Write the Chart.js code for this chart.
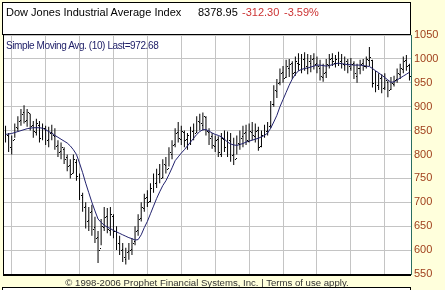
<!DOCTYPE html>
<html><head><meta charset="utf-8">
<script src="https://cdn.jsdelivr.net/npm/chart.js@4.4.1/dist/chart.umd.min.js"></script>
<style>
html,body{margin:0;padding:0;}
body{width:445px;height:290px;background:#ffffdc;position:relative;overflow:hidden;font-family:"Liberation Sans",Arial,sans-serif;}
#c{position:absolute;left:0;top:0;}
#titlebox{position:absolute;left:2px;top:2px;width:407px;height:31px;border:1px solid #000;background:#fff;}
.t{position:absolute;font-size:11px;line-height:13px;white-space:nowrap;}
#malabel{position:absolute;left:6px;top:39px;font-size:10px;letter-spacing:-0.4px;line-height:13px;color:#22226a;white-space:nowrap;}
#footer{position:absolute;left:3px;top:277px;width:408px;text-align:center;font-size:9.6px;line-height:11px;color:#333;white-space:nowrap;}
#bottombox{position:absolute;left:2px;top:287px;width:407px;height:10px;border:1px solid #000;background:#fff;}
</style></head>
<body>
<canvas id="c" width="445" height="290"></canvas>
<div id="titlebox"></div>
<span class="t" style="left:6px;top:6px;color:#000">Dow Jones Industrial Average Index</span>
<span class="t" style="left:198px;top:6px;color:#000">8378.95</span>
<span class="t" style="left:242px;top:6px;color:#cc3333">-312.30</span>
<span class="t" style="left:284px;top:6px;color:#cc3333">-3.59%</span>
<div id="malabel">Simple Moving Avg. (10) Last=972.68</div>
<div id="footer">© 1998-2006 Prophet Financial Systems, Inc. | Terms of use apply.</div>
<div id="bottombox"></div>
<script>
const highs = [860,845,840,865,880,895,903,895,885,870,
875,870,865,860,858,862,855,830,825,815,
800,790,800,790,760,720,700,690,695,670,
640,665,690,688,690,675,650,630,615,605,
615,625,650,675,700,718,725,740,760,770,
780,790,795,815,830,855,868,860,850,845,
858,865,880,885,888,880,855,845,840,838,
845,850,848,845,835,840,850,860,862,865,
868,865,858,850,862,868,912,945,958,980,
985,998,1000,995,1005,1012,1010,1014,1010,1008,
1012,1005,998,990,1000,1010,1012,1008,1015,1010,
1005,1000,1002,995,990,998,1000,1005,1025,998,
975,970,968,970,955,962,965,980,990,1005,
1008,990];
const lows = [825,805,800,835,848,860,865,858,850,835,
840,825,830,820,815,830,810,795,790,780,
765,750,760,745,705,680,645,640,630,615,
573,610,640,635,630,625,600,590,575,570,
580,590,610,630,660,680,690,700,720,730,
740,750,760,775,790,815,825,820,815,810,
820,830,845,850,850,840,820,812,805,795,
795,805,795,785,778,800,810,815,820,825,
830,825,808,815,835,840,855,900,918,945,
950,960,962,958,965,975,970,975,968,972,
978,970,955,952,960,980,985,982,985,980,
975,970,975,958,950,968,975,980,985,940,
930,935,928,935,920,935,942,950,958,970,
975,955];
const opens = [850,838,812,832,856,872,888,872,886,862,
848,862,838,852,832,847,838,820,807,812,
795,778,762,785,758,712,692,662,682,648,
628,605,648,672,642,672,642,612,602,582,
598,602,618,642,668,688,712,702,728,742,
762,752,778,772,802,822,848,832,848,832,
838,852,848,868,862,878,848,838,818,832,
802,832,818,828,802,792,822,838,848,828,
848,838,852,818,838,852,862,905,932,952,
972,962,982,992,972,992,988,1002,982,992,
1002,992,982,962,972,988,1002,992,1002,998,
988,992,982,992,965,982,992,985,998,998,
948,942,962,942,952,938,948,958,968,978,
998,988];
const closes = [840,815,830,858,870,885,870,888,860,850,
865,835,855,830,845,840,818,805,815,790,
775,760,790,755,715,690,660,680,645,625,
600,650,670,645,675,640,615,600,585,595,
600,615,640,665,690,710,700,730,740,760,
750,780,770,805,820,845,835,850,830,840,
850,845,870,865,880,850,835,820,830,805,
835,815,830,800,790,825,835,845,830,850,
840,850,815,840,850,860,905,935,950,970,
960,985,990,970,995,990,1000,985,995,1000,
990,985,965,970,990,1000,995,1000,995,990,
995,985,990,970,980,990,985,1000,1005,950,
945,960,940,955,935,950,955,970,980,995,
985,965];
const movingAvg = [842,843,844,846,848,850,852,854,855,856,
856,856,855,852,848,845,840,836,832,828,
824,818,810,800,782,762,740,720,700,682,
665,658,652,648,645,641,638,635,632,629,
626,624,621,622,632,647,660,676,692,708,
722,735,745,758,772,787,795,803,810,818,
826,834,842,848,852,852,849,845,842,840,
837,832,826,822,820,819,821,823,826,828,
830,832,834,837,840,845,855,868,882,900,
915,930,945,958,968,975,978,980,981,983,
985,987,987,986,985,986,988,990,991,990,
989,988,988,987,987,987,986,985,984,980,
975,971,966,961,956,951,952,956,960,964,
968,972];
const yTicks = [550,600,650,700,750,800,850,900,950,1000,1050];
const xGridAt = [7.5,18.5,29.5,40.5,51.5,62.5,73.5,84.5,95.5,106.5,117.5,128.5];

const barData = highs.map((h,i)=>({x:i, y:[lows[i], h]}));
const maData = movingAvg.map((v,i)=>({x:i, y:v}));

const frame = {
  id:'frame',
  beforeDraw(chart){
    const {ctx, chartArea:a} = chart;
    ctx.save(); ctx.fillStyle='#fff'; ctx.fillRect(a.left,a.top,a.right-a.left,a.bottom-a.top); ctx.restore();
  },
  afterDraw(chart){
    const {ctx, chartArea:a} = chart;
    ctx.save(); ctx.fillStyle='#000';
    ctx.fillRect(a.left-1, a.top, 1, a.bottom-a.top+2);
    ctx.fillRect(a.left-1, a.bottom, a.right-a.left+1, 2);
    ctx.restore();
  }
};
const ohlcTicks = {
  id:'ohlcTicks',
  afterDatasetsDraw(chart){
    const {ctx, scales:{x,y}} = chart;
    ctx.save(); ctx.fillStyle='#000';
    for(let i=0;i<closes.length;i++){
      const px = Math.round(x.getPixelForValue(i));
      const po = Math.round(y.getPixelForValue(opens[i]));
      const pc = Math.round(y.getPixelForValue(closes[i]));
      ctx.fillRect(px-1, po, 1, 1);
      ctx.fillRect(px+1, pc, 1, 1);
    }
    ctx.restore();
  }
};

new Chart(document.getElementById('c'), {
  data:{datasets:[
    {type:'line', data:maData, borderColor:'#22226e', borderWidth:1, pointRadius:0, tension:0, order:0},
    {type:'bar', data:barData, backgroundColor:'#000', barThickness:1, inflateAmount:0, grouped:false, order:1}
  ]},
  options:{
    responsive:false, animation:false, devicePixelRatio:1,
    layout:{padding:{left:4, top:35, bottom:16, right:0}},
    plugins:{legend:{display:false}, tooltip:{enabled:false}},
    scales:{
      x:{type:'linear', min:-0.5, max:131.5, offset:false,
         ticks:{display:false}, border:{display:false},
         grid:{color:'#c4c4c4', drawTicks:false, lineWidth:1},
         afterBuildTicks(s){ s.ticks = xGridAt.map(v=>({value:v})); },
         afterFit(s){ s.height = 0; }},
      y:{type:'linear', position:'right', min:550, max:1050,
         afterBuildTicks(s){ s.ticks = yTicks.map(v=>({value:v})); },
         afterFit(s){ s.width = 34; },
         border:{display:true, color:'#2a6e60', width:1},
         grid:{color:'#c4c4c4', drawTicks:false},
         ticks:{color:'#a0401c', padding:3, font:{family:'Liberation Sans', size:11},
                callback:(v)=>String(v)}}
    }
  },
  plugins:[frame, ohlcTicks]
});
</script>
</body></html>
